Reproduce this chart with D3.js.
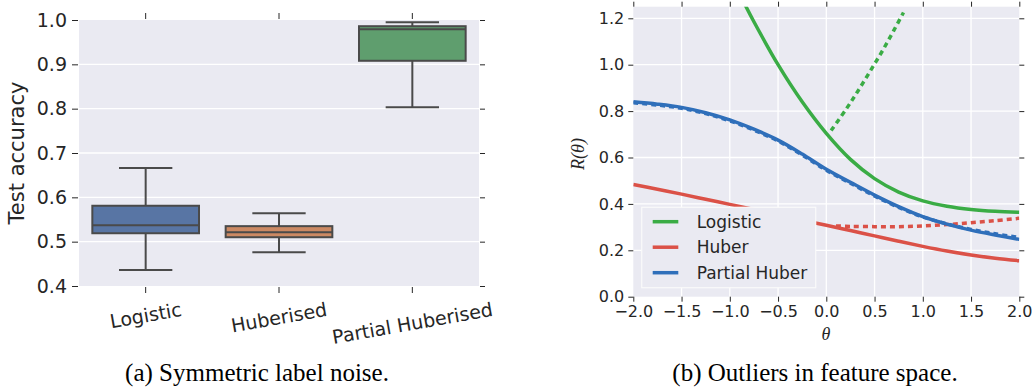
<!DOCTYPE html>
<html>
<head>
<meta charset="utf-8">
<script src="https://cdn.jsdelivr.net/npm/d3@7"></script>
<style>
  body { margin: 0; background: #fff; }
  svg { display: block; }
  .tick text { fill: #262626; font-family: 'DejaVu Sans', sans-serif; }
  .tick line { stroke: #262626; stroke-width: 1; }
</style>
</head>
<body>
<div id="chart"></div>
<script>
// (a) box plot data: test accuracy per loss
let boxCategories = ['Logistic', 'Huberised', 'Partial Huberised'];
let boxLow = [0.436, 0.476, 0.803];
let boxQ1 = [0.519, 0.510, 0.908];
let boxMedian = [0.537, 0.521, 0.979];
let boxQ3 = [0.581, 0.535, 0.986];
let boxHigh = [0.666, 0.564, 0.995];
let boxTicks = [0.4, 0.5, 0.6, 0.7, 0.8, 0.9, 1.0];

// (b) risk curves R(theta), solid = clean, dotted = with outlier
let thetaGrid = [-2, -1.75, -1.5, -1.25, -1, -0.75, -0.5, -0.25, 0, 0.25, 0.5, 0.75, 1, 1.25, 1.5, 1.75, 2];
let logisticTheta = [-0.85, -0.75, -0.5, -0.25, 0, 0.25, 0.5, 0.75, 1, 1.25, 1.5, 1.75, 2];
let logisticClean = [1.265, 1.185, 1.0, 0.84, 0.704, 0.592, 0.509, 0.451, 0.413, 0.39, 0.376, 0.368, 0.364];
let logisticOutlierTheta = [0.05, 0.2, 0.3, 0.4, 0.5, 0.6, 0.7, 0.8];
let logisticOutlier = [0.716, 0.805, 0.868, 0.935, 1.003, 1.073, 1.148, 1.225];
let huberClean = [0.484, 0.463, 0.442, 0.42, 0.398, 0.376, 0.353, 0.33, 0.308, 0.285, 0.262, 0.239, 0.217, 0.197, 0.18, 0.166, 0.155];
let huberOutlierTheta = [0.1, 0.25, 0.5, 0.75, 1, 1.25, 1.5, 1.75, 2];
let huberOutlier = [0.305, 0.303, 0.302, 0.302, 0.305, 0.311, 0.319, 0.328, 0.338];
let partialClean = [0.84, 0.83, 0.816, 0.793, 0.762, 0.722, 0.675, 0.615, 0.549, 0.493, 0.438, 0.388, 0.345, 0.313, 0.287, 0.266, 0.247];
let partialOutlier = [0.836, 0.826, 0.812, 0.789, 0.758, 0.718, 0.671, 0.611, 0.545, 0.489, 0.434, 0.385, 0.344, 0.314, 0.29, 0.271, 0.255];
let lineLabels = ['Logistic', 'Huber', 'Partial Huber'];
let thetaTicks = [-2, -1.5, -1, -0.5, 0, 0.5, 1, 1.5, 2];
let riskTicks = [0, 0.2, 0.4, 0.6, 0.8, 1.0, 1.2];

let boxColors = ['#5875a4', '#cc8963', '#5f9e6e'];
let lineColors = ['#3aac45', '#db5147', '#2f6fba'];
let bg = '#eaeaf2';
let edge = '#4a4a4a';

let width = 1035;
let height = 390;

let svg = d3.select('#chart')
  .append('svg')
  .attr('width', width)
  .attr('height', height);

let fmt = d3.format('.1f');
let minusFmt = (d) => fmt(d).replace('-', '\u2212');

// ---------- left panel ----------
let xA = d3.scaleBand().domain(boxCategories).range([79, 479]).paddingInner(0.2).paddingOuter(0.1);
let yA = d3.scaleLinear().domain([0.4, 1.0]).range([286, 20]);

svg.append('rect')
  .attr('x', 79).attr('y', 20)
  .attr('width', 400).attr('height', 266)
  .attr('fill', bg);

svg.append('g')
  .selectAll('line')
  .data(boxTicks.slice(1, -1))
  .enter()
  .append('line')
  .attr('x1', 79).attr('x2', 479)
  .attr('y1', (d) => yA(d)).attr('y2', (d) => yA(d))
  .attr('stroke', '#fff').attr('stroke-width', 1.3);

let boxes = svg.append('g')
  .selectAll('g')
  .data(boxCategories)
  .enter()
  .append('g');

let cx = (d) => xA(d) + xA.bandwidth() / 2;
let capW = xA.bandwidth() / 4;

boxes.append('line')
  .attr('x1', cx).attr('x2', cx)
  .attr('y1', (d, i) => yA(boxHigh[i])).attr('y2', (d, i) => yA(boxQ3[i]));
boxes.append('line')
  .attr('x1', cx).attr('x2', cx)
  .attr('y1', (d, i) => yA(boxQ1[i])).attr('y2', (d, i) => yA(boxLow[i]));
boxes.append('line')
  .attr('x1', (d) => cx(d) - capW).attr('x2', (d) => cx(d) + capW)
  .attr('y1', (d, i) => yA(boxHigh[i])).attr('y2', (d, i) => yA(boxHigh[i]));
boxes.append('line')
  .attr('x1', (d) => cx(d) - capW).attr('x2', (d) => cx(d) + capW)
  .attr('y1', (d, i) => yA(boxLow[i])).attr('y2', (d, i) => yA(boxLow[i]));
boxes.append('rect')
  .attr('x', (d) => xA(d))
  .attr('y', (d, i) => yA(boxQ3[i]))
  .attr('width', xA.bandwidth())
  .attr('height', (d, i) => yA(boxQ1[i]) - yA(boxQ3[i]))
  .attr('fill', (d, i) => boxColors[i]);
boxes.append('line')
  .attr('x1', (d) => xA(d)).attr('x2', (d) => xA(d) + xA.bandwidth())
  .attr('y1', (d, i) => yA(boxMedian[i])).attr('y2', (d, i) => yA(boxMedian[i]));
boxes.selectAll('line, rect')
  .attr('stroke', edge)
  .attr('stroke-width', 2);

// ticks on all four sides
svg.append('g')
  .attr('transform', 'translate(78,0)')
  .call(d3.axisLeft(yA).tickValues(boxTicks).tickFormat(fmt).tickSize(6).tickPadding(5))
  .call((g) => g.select('.domain').remove())
  .selectAll('text').style('font-size', '19px');
svg.append('g')
  .attr('transform', 'translate(480,0)')
  .call(d3.axisRight(yA).tickValues(boxTicks).tickFormat('').tickSize(5))
  .call((g) => g.select('.domain').remove());
svg.append('g')
  .attr('transform', 'translate(0,19)')
  .call(d3.axisTop(xA).tickFormat('').tickSize(6))
  .call((g) => g.select('.domain').remove());
svg.append('g')
  .attr('transform', 'translate(0,287)')
  .call(d3.axisBottom(xA).tickFormat('').tickSize(6))
  .call((g) => g.select('.domain').remove());

// rotated category labels, top of rotated box aligned like matplotlib
let rot = 10 * Math.PI / 180;
svg.append('g')
  .selectAll('text')
  .data(boxCategories)
  .enter()
  .append('text')
  .text((d) => d)
  .attr('font-family', 'DejaVu Sans, sans-serif')
  .attr('font-size', 19)
  .attr('fill', '#262626')
  .attr('text-anchor', 'middle')
  .attr('dominant-baseline', 'central')
  .each(function(d) {
    let w = this.getComputedTextLength();
    let h = 22;
    let cy = 298 + (w * Math.sin(rot) + h * Math.cos(rot)) / 2;
    d3.select(this)
      .attr('x', cx(d)).attr('y', cy)
      .attr('transform', 'rotate(-10,' + cx(d) + ',' + cy + ')');
  });

svg.append('text')
  .attr('transform', 'translate(24,153) rotate(-90)')
  .attr('text-anchor', 'middle')
  .attr('font-family', 'DejaVu Sans, sans-serif')
  .attr('font-size', 21)
  .attr('fill', '#262626')
  .text('Test accuracy');

// ---------- right panel ----------
let xB = d3.scaleLinear().domain([-2, 2]).range([633.3, 1019.3]);
let yB = d3.scaleLinear().domain([0, 1.25]).range([296.7, 6.7]);

svg.append('rect')
  .attr('x', 633.3).attr('y', 6.7)
  .attr('width', 386).attr('height', 290)
  .attr('fill', bg);

svg.append('defs').append('clipPath')
  .attr('id', 'clipB')
  .append('rect')
  .attr('x', 633.3).attr('y', 6.7)
  .attr('width', 386).attr('height', 290);

let grid = svg.append('g').attr('stroke', '#fff').attr('stroke-width', 1.3);
grid.selectAll('.gx')
  .data(thetaTicks.slice(1, -1))
  .enter()
  .append('line')
  .attr('x1', (d) => xB(d)).attr('x2', (d) => xB(d))
  .attr('y1', 6.7).attr('y2', 296.7);
grid.selectAll('.gy')
  .data(riskTicks.slice(1))
  .enter()
  .append('line')
  .attr('x1', 633.3).attr('x2', 1019.3)
  .attr('y1', (d) => yB(d)).attr('y2', (d) => yB(d));

let line = d3.line()
  .x((d) => xB(d[0]))
  .y((d) => yB(d[1]))
  .curve(d3.curveCatmullRom.alpha(0.5));

let series = [
  {t: logisticTheta, v: logisticClean, c: 0, dash: null},
  {t: logisticOutlierTheta, v: logisticOutlier, c: 0, dash: '5,4'},
  {t: thetaGrid, v: huberClean, c: 1, dash: null},
  {t: huberOutlierTheta, v: huberOutlier, c: 1, dash: '5,4'},
  {t: thetaGrid, v: partialClean, c: 2, dash: null},
  {t: thetaGrid, v: partialOutlier, c: 2, dash: '5,4'},
];

svg.append('g')
  .attr('clip-path', 'url(#clipB)')
  .selectAll('path')
  .data(series)
  .enter()
  .append('path')
  .attr('d', (s) => line(s.t.map((t, i) => [t, s.v[i]])))
  .attr('fill', 'none')
  .attr('stroke', (s) => lineColors[s.c])
  .attr('stroke-width', 3.5)
  .attr('stroke-dasharray', (s) => s.dash);

svg.append('g')
  .attr('transform', 'translate(633.3,0)')
  .call(d3.axisLeft(yB).tickValues(riskTicks).tickFormat(fmt).tickSize(5).tickPadding(4))
  .call((g) => g.select('.domain').remove())
  .selectAll('text').style('font-size', '16px');
svg.append('g')
  .attr('transform', 'translate(1019.3,0)')
  .call(d3.axisRight(yB).tickValues(riskTicks).tickFormat('').tickSize(5))
  .call((g) => g.select('.domain').remove());
svg.append('g')
  .attr('transform', 'translate(0,296.7)')
  .call(d3.axisBottom(xB).tickValues(thetaTicks).tickFormat(minusFmt).tickSize(5).tickPadding(4))
  .call((g) => g.select('.domain').remove())
  .selectAll('text').style('font-size', '16px');
svg.append('g')
  .attr('transform', 'translate(0,6.7)')
  .call(d3.axisTop(xB).tickValues(thetaTicks).tickFormat('').tickSize(5))
  .call((g) => g.select('.domain').remove());

// legend
let legend = svg.append('g');
legend.append('rect')
  .attr('x', 641.7).attr('y', 207.3)
  .attr('width', 174).attr('height', 80.4)
  .attr('fill', bg)
  .attr('stroke', '#fafafa')
  .attr('stroke-width', 1.2);
let rows = legend.selectAll('g')
  .data(lineLabels)
  .enter()
  .append('g')
  .attr('transform', (d, i) => 'translate(0,' + (221.7 + i * 25.5) + ')');
rows.append('line')
  .attr('x1', 652.7).attr('x2', 678.3)
  .attr('stroke', (d, i) => lineColors[i])
  .attr('stroke-width', 3.5);
rows.append('text')
  .attr('x', 696.7)
  .attr('dy', '0.35em')
  .attr('font-family', 'DejaVu Sans, sans-serif')
  .attr('font-size', 17)
  .attr('fill', '#262626')
  .text((d) => d);

svg.append('text')
  .attr('transform', 'translate(584,154) rotate(-90)')
  .attr('text-anchor', 'middle')
  .attr('font-family', 'Liberation Serif, serif')
  .attr('font-style', 'italic')
  .attr('font-size', 18)
  .attr('fill', '#262626')
  .text('R(\u03b8)');

svg.append('text')
  .attr('x', 826).attr('y', 340)
  .attr('text-anchor', 'middle')
  .attr('font-family', 'Liberation Serif, serif')
  .attr('font-style', 'italic')
  .attr('font-size', 18)
  .attr('fill', '#262626')
  .text('\u03b8');

// captions
let captions = [
  {x: 257, text: '(a) Symmetric label noise.'},
  {x: 815, text: '(b) Outliers in feature space.'},
];
svg.append('g')
  .selectAll('text')
  .data(captions)
  .enter()
  .append('text')
  .attr('x', (d) => d.x).attr('y', 381)
  .attr('text-anchor', 'middle')
  .attr('font-family', 'Liberation Serif, serif')
  .attr('font-size', 25)
  .attr('fill', '#000')
  .text((d) => d.text);
</script>
</body>
</html>
